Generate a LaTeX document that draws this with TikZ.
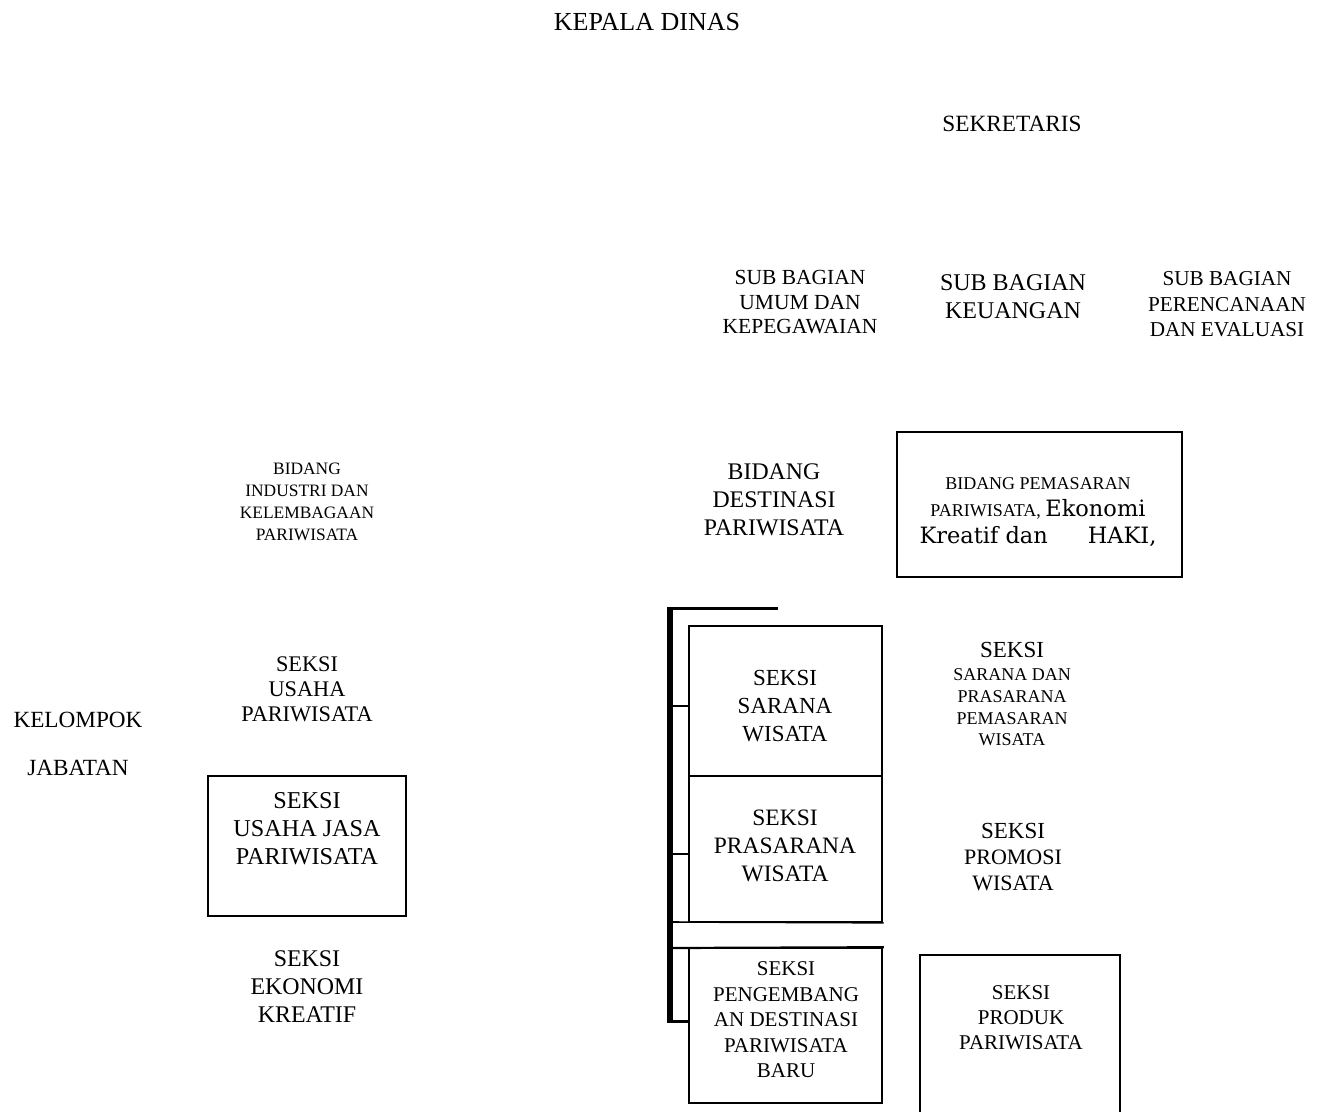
\documentclass[tikz,border=0pt]{standalone}
\usepackage{fontspec}
\setmainfont{Liberation Serif}
\newfontfamily\ekofont{DejaVu Serif}
\newcommand{\fsz}[2]{\fontsize{#1}{#2}\selectfont}

\begin{document}
\begin{tikzpicture}[x=1pt,y=-1pt,line cap=rect,every node/.style={align=center,inner sep=0pt}]
\tikzset{box/.style={draw,line width=1.6pt,inner sep=0pt},spine/.style={line width=6pt},twig/.style={line width=2.6pt}}
\useasboundingbox (0,0) rectangle (1324,1111);
% pimpinan
\node[font=\fsz{26}{28}] (kadis) at (647,22) {KEPALA DINAS};
\node[font=\fsz{23.3}{28}] (sekr) at (1012,124) {SEKRETARIS};
\node[font=\fsz{21.5}{24.5}] (umum) at (800,302.5) {SUB BAGIAN\\UMUM DAN\\KEPEGAWAIAN};
\node[font=\fsz{24}{28}] (keu) at (1013,297) {SUB BAGIAN\\KEUANGAN};
\node[font=\fsz{21.2}{25.5}] (renc) at (1227,304.5) {SUB BAGIAN\\PERENCANAAN\\DAN EVALUASI};
% bidang
\node[font=\fsz{17.4}{22}] (industri) at (307,502) {BIDANG\\INDUSTRI DAN\\KELEMBAGAAN\\PARIWISATA};
\node[font=\fsz{23.8}{28}] (destinasi) at (774,500) {BIDANG\\DESTINASI\\PARIWISATA};
\node[box,minimum width=285pt,minimum height=145pt] (pemasaran) at (1039.5,504.5) {};
\node[font=\fsz{18}{27}] (pemasaranTxt) at (1038,512.5) {BIDANG PEMASARAN\\PARIWISATA, {\ekofont\fsz{22.5}{27}Ekonomi}\\\makebox[237pt]{\ekofont\fsz{22.5}{27}Kreatif dan\hfill HAKI,}};
% seksi bidang industri
\node[font=\fsz{22.3}{25}] (usaha) at (307,689) {SEKSI\\USAHA\\PARIWISATA};
\node[box,minimum width=198pt,minimum height=140pt] (jasa) at (307,846) {};
\node[font=\fsz{24.2}{28}] (jasaTxt) at (307,829) {SEKSI\\USAHA JASA\\PARIWISATA};
\node[font=\fsz{23.9}{28}] (ekraf) at (307,987) {SEKSI\\EKONOMI\\KREATIF};
\node[font=\fsz{23.2}{48}] (jabatan) at (78,744) {KELOMPOK\\JABATAN};
% seksi bidang destinasi
\node[box,minimum width=193pt,minimum height=150pt] (sarana) at (785.5,701) {};
\node[font=\fsz{23}{28}] (saranaTxt) at (785,706) {SEKSI\\SARANA\\WISATA};
\node[box,minimum width=193pt,minimum height=146pt] (prasarana) at (785.5,849) {};
\node[font=\fsz{23.5}{28}] (prasaranaTxt) at (785,846) {SEKSI\\PRASARANA\\WISATA};
\node[box,minimum width=193pt,minimum height=155pt] (baru) at (785.5,1025.5) {};
\node[font=\fsz{21}{25.5}] (baruTxt) at (786,1020) {SEKSI\\PENGEMBANG\\AN DESTINASI\\PARIWISATA\\BARU};
% seksi bidang pemasaran
\node[font=\fsz{18}{21.7}] (sapras) at (1012,694) {{\fsz{23}{25}SEKSI}\\[1.7pt]SARANA DAN\\PRASARANA\\PEMASARAN\\WISATA};
\node[font=\fsz{22}{26}] (promosi) at (1013,857) {{\fsz{23}{26}SEKSI}\\PROMOSI\\WISATA};
\node[box,minimum width=200pt,minimum height=175pt] (produk) at (1020,1042.5) {};
\node[font=\fsz{21}{25}] (produkTxt) at (1021,1018) {SEKSI\\PRODUK\\PARIWISATA};
% garis bidang destinasi
\coordinate (spineTop) at (670,608); \coordinate (spineBot) at (670,1021);
\coordinate (spineEnd) at (776,608);
\coordinate (brA) at (670,706); \coordinate (brB) at (670,854);
\coordinate (brC) at (670,922); \coordinate (brD) at (670,948);
\draw[spine,line cap=butt] ([yshift=1.5pt]spineTop) -- ([yshift=-1.5pt]spineBot);
\draw[line width=3pt] (spineTop) -- (spineEnd);
\draw[line width=3pt] (spineBot) -- (spineBot -| baru.west);
\draw[twig] (brA) -- (brA -| sarana.west);
\draw[twig] (brB) -- (brB -| prasarana.west);
\draw[line width=1.6pt] (brC) -- (prasarana.south east);
\draw[line width=2.2pt] (brD) -- (baru.north east);
\end{tikzpicture}
\end{document}
